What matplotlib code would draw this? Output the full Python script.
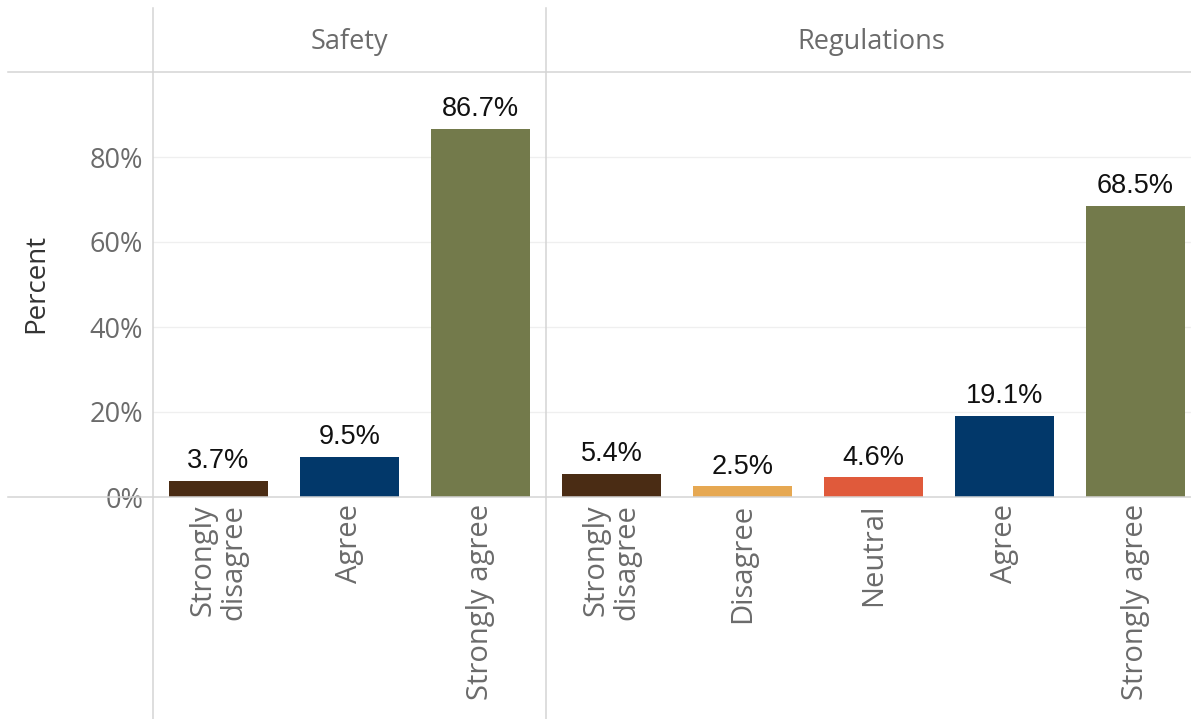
import matplotlib
matplotlib.use("Agg")
import matplotlib.pyplot as plt
from matplotlib.lines import Line2D

# ---- data ----
panels = ["Safety", "Regulations"]
safety_cats = ["Strongly\ndisagree", "Agree", "Strongly agree"]
safety_vals = [3.7, 9.5, 86.7]
reg_cats = ["Strongly\ndisagree", "Disagree", "Neutral", "Agree", "Strongly agree"]
reg_vals = [5.4, 2.5, 4.6, 19.1, 68.5]
y_ticks = [0, 20, 40, 60, 80]
y_tick_labels = ["0%", "20%", "40%", "60%", "80%"]

colors = {
    "Strongly\ndisagree": "#4a2c14",
    "Disagree": "#e6a852",
    "Neutral": "#e05a3b",
    "Agree": "#02386a",
    "Strongly agree": "#737a4b",
}

W, H = 1191, 719
fig = plt.figure(figsize=(W / 100, H / 100), dpi=100)
fig.patch.set_facecolor("white")

FONT = ["Open Sans", "DejaVu Sans"]
LABEL_FONT = ["Liberation Sans", "DejaVu Sans"]
GREY = "#6b6b6b"
LINE = "#d4d4d4"

x0 = 153
zero_y = 497
top_y = 72
step = 131

def px_axes(left, width):
    return fig.add_axes([left / W, (H - zero_y) / H, width / W, (zero_y - top_y) / H])

data = [(safety_cats, safety_vals), (reg_cats, reg_vals)]
lefts = [x0, x0 + 3 * step]
axes = []
for i, ((cats, vals), left) in enumerate(zip(data, lefts)):
    ax = px_axes(left, step * len(cats))
    axes.append(ax)
    xs = list(range(len(cats)))
    ax.bar(xs, vals, width=0.75, color=[colors[c] for c in cats], zorder=3)
    for x, v in zip(xs, vals):
        ax.text(x, v + 1.6, f"{v:.1f}%", ha="center", va="bottom",
                fontsize=19.5, color="#111111", family=LABEL_FONT, zorder=4)
    ax.set_xlim(-0.5, len(cats) - 0.5)
    ax.set_ylim(0, 100)
    ax.set_yticks(y_ticks)
    for y in y_ticks[1:]:
        ax.axhline(y, color="#efefef", lw=0.9, zorder=1)
    ax.set_xticks(xs)
    ax.set_xticklabels(cats, rotation=90, fontsize=21, color=GREY, family=FONT,
                       linespacing=1.12)
    for lbl in ax.get_xticklabels():
        lbl.set_multialignment("right")
    ax.tick_params(axis="x", length=0, pad=5)
    if i == 0:
        ax.set_yticklabels(y_tick_labels, fontsize=19.5, color=GREY, family=FONT)
        ax.tick_params(axis="y", length=0, pad=7)
    else:
        ax.set_yticklabels([])
        ax.tick_params(axis="y", length=0)
    for s in ax.spines.values():
        s.set_visible(False)
    ax.patch.set_alpha(0)

# header texts
for name, left, n in zip(panels, lefts, [3, 5]):
    cx = left + step * n / 2
    if name == "Regulations":
        cx = (left + W) / 2 + 3
    fig.text(cx / W, 1 - 42 / H, name, ha="center", va="center",
             fontsize=19.5, color=GREY, family=FONT)

# y-axis title
fig.text(36 / W, 1 - 283 / H, "Percent", rotation=90, ha="center", va="center",
         fontsize=20, color="#333333", family=FONT)

# frame lines
def fline(x1, y1, x2, y2, color=LINE, lw=1.1):
    fig.add_artist(Line2D([x1 / W, x2 / W], [1 - y1 / H, 1 - y2 / H],
                          transform=fig.transFigure, color=color, lw=lw, zorder=5))

fline(8, top_y, W, top_y)
fline(8, zero_y, W, zero_y)
fline(x0, 8, x0, H)
fline(x0 + 3 * step, 8, x0 + 3 * step, H)

fig.savefig("out.png", dpi=100, facecolor="white")
